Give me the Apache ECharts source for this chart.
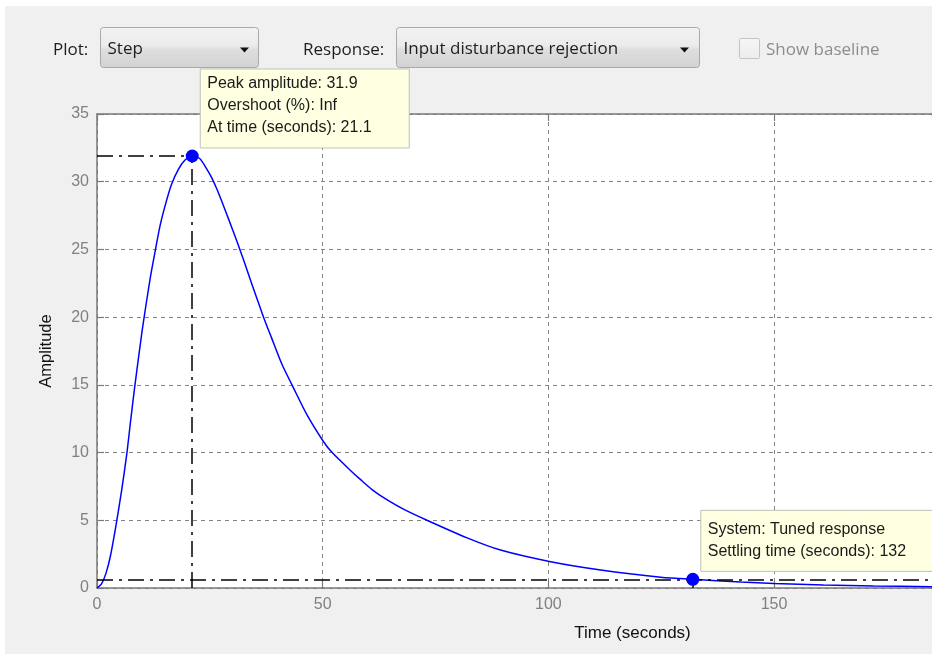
<!DOCTYPE html>
<html>
<head>
<meta charset="utf-8">
<script src="https://cdn.jsdelivr.net/npm/echarts@6/dist/echarts.min.js"></script>
<style>html,body{margin:0;padding:0;background:#fff;}#main{width:932px;height:654px;}</style>
</head>
<body>
<div id="main"></div>
<script>
// ---- data ----
const timeSec = [0, 1.0, 2.0, 3.0, 4.2, 5.5, 6.6, 7.4, 8.3, 10.0, 11.8, 12.9, 14.0, 15.4, 16.5, 18.0, 19.5, 21.1, 22.8, 24.2, 25.4, 26.5, 27.6, 29.2, 31.0, 32.6, 34.3, 36.9, 38.7, 41.0, 43.2, 46.5, 50.2, 52.1, 56.1, 58.4, 61.0, 64.3, 68.0, 73.1, 82.0, 89.4, 100.5, 111.6, 124.9, 132.0, 142.6, 150.0, 161.0, 172.0, 185.0];
const amplitude = [0, 0.3, 1.1, 2.4, 4.6, 7.3, 9.9, 12.2, 14.7, 19.0, 22.9, 24.9, 26.8, 28.6, 29.8, 30.9, 31.6, 31.9, 31.7, 31.0, 30.3, 29.5, 28.6, 27.2, 25.6, 24.1, 22.45, 20.0, 18.45, 16.5, 15.0, 12.8, 10.8, 10.0, 8.7, 8.0, 7.25, 6.5, 5.8, 5.0, 3.7, 2.8, 1.94, 1.33, 0.8, 0.64, 0.45, 0.34, 0.23, 0.15, 0.09];
const peakTime = 21.1;
const peakAmp = 31.9;
const settleTime = 132;
const settleLevel = 0.64;
const xRange = [0, 185];
const yRange = [0, 35];
const xStep = 50;
const yStep = 5;
const peakTipLines = ['Peak amplitude: 31.9', 'Overshoot (%): Inf', 'At time (seconds): 21.1'];
const settleTipLines = ['System: Tuned response', 'Settling time (seconds): 132'];
const plotLabel = 'Plot:';
const plotChoice = 'Step';
const responseLabel = 'Response:';
const responseChoice = 'Input disturbance rejection';
const baselineLabel = 'Show baseline';
const xName = 'Time (seconds)';
const yName = 'Amplitude';

const chart = echarts.init(document.getElementById('main'));
const AXC = '#7a7a7a';
const LBL = '#808080';
const SANS = 'Liberation Sans, Arial, sans-serif';
const UI = 'Open Sans, Noto Sans, sans-serif';
const dashDot = [16, 6, 3, 6];

chart.setOption({
  animation: false,
  backgroundColor: '#f0f0f0',
  grid: {left: 97, top: 114, right: 0, bottom: 66, show: true, backgroundColor: '#ffffff', borderWidth: 0},
  xAxis: [{
    type: 'value', min: xRange[0], max: xRange[1], interval: xStep, position: 'bottom',
    axisLine: {show: true, onZero: false, lineStyle: {color: AXC, width: 1.5}},
    axisTick: {show: true, inside: true, length: 7, lineStyle: {color: AXC, width: 1.2}},
    axisLabel: {color: LBL, fontSize: 16, fontFamily: SANS, margin: 9, showMaxLabel: false},
    splitLine: {show: true, lineStyle: {color: '#858585', type: [4, 4], width: 1}},
    name: xName, nameLocation: 'middle', nameGap: 37,
    nameTextStyle: {color: '#111', fontSize: 17, fontFamily: SANS, padding: [0, 0, 0, 236]}
  }, {
    type: 'value', min: xRange[0], max: xRange[1], interval: xStep, position: 'top',
    axisLine: {show: true, onZero: false, lineStyle: {color: AXC, width: 1.5}},
    axisTick: {show: true, inside: true, length: 7, lineStyle: {color: AXC, width: 1.2}},
    axisLabel: {show: false}, splitLine: {show: false}
  }],
  yAxis: [{
    type: 'value', min: yRange[0], max: yRange[1], interval: yStep,
    axisLine: {show: true, onZero: false, lineStyle: {color: AXC, width: 1.5}},
    axisTick: {show: true, inside: true, length: 7, lineStyle: {color: AXC, width: 1.2}},
    axisLabel: {color: LBL, fontSize: 16, fontFamily: SANS, margin: 8},
    splitLine: {show: true, lineStyle: {color: '#858585', type: [4, 4], width: 1}},
    name: yName, nameLocation: 'middle', nameGap: 42,
    nameTextStyle: {color: '#111', fontSize: 16.5, fontFamily: SANS}
  }],
  series: [{
    type: 'line',
    data: timeSec.map((t, i) => [t, amplitude[i]]),
    showSymbol: false,
    smooth: 0.25,
    lineStyle: {color: '#0000ff', width: 1.5},
    itemStyle: {color: '#0000ff'},
    z: 3,
    markLine: {
      silent: true, symbol: 'none', animation: false,
      label: {show: false},
      lineStyle: {color: '#000', type: dashDot, width: 1.5},
      data: [
        [{coord: [xRange[0], peakAmp]}, {coord: [peakTime, peakAmp]}],
        [{coord: [peakTime, yRange[0]]}, {coord: [peakTime, peakAmp]}],
        [{coord: [xRange[0], settleLevel]}, {coord: [xRange[1], settleLevel]}],
        [{coord: [settleTime, yRange[0]]}, {coord: [settleTime, settleLevel]}]
      ]
    }
  }, {
    type: 'scatter',
    data: [[peakTime, peakAmp], [settleTime, settleLevel]],
    symbol: 'circle', symbolSize: 13,
    itemStyle: {color: '#0000ff', opacity: 1},
    z: 5
  }]
});

// ---- annotations / UI chrome ----
const p1 = chart.convertToPixel({gridIndex: 0}, [peakTime, peakAmp]);
const p2 = chart.convertToPixel({gridIndex: 0}, [settleTime, settleLevel]);

function tip(px, py, w, h, lines, padTop) {
  const left = px + 8, top = py - 8 - h;
  return [
    {type: 'rect', shape: {x: left, y: top, width: w, height: h}, style: {fill: '#ffffe1', stroke: '#c0c0b8', lineWidth: 1}, z: 100},
    {type: 'text', x: left + 7, y: top + padTop, style: {text: lines.join('\n'), fill: '#1a1a1a', fontSize: 16, fontFamily: SANS, lineHeight: 22, verticalAlign: 'top', align: 'left'}, z: 101}
  ];
}

function dropdown(x, y, w, h, text, arrowX) {
  return [
    {type: 'rect', shape: {x: x, y: y, width: w, height: h, r: 3},
     style: {fill: new echarts.graphic.LinearGradient(0, 0, 0, 1, [
       {offset: 0, color: '#f3f3f3'}, {offset: 0.45, color: '#ebebeb'},
       {offset: 0.55, color: '#dedede'}, {offset: 1, color: '#d2d2d2'}]),
       stroke: '#a9a9a9', lineWidth: 1}},
    {type: 'text', x: x + 7, y: y + h / 2 + 2, style: {text: text, fill: '#1e1e1e', fontSize: 17, fontFamily: UI, verticalAlign: 'middle'}},
    {type: 'polygon', shape: {points: [[arrowX, 47.5], [arrowX + 9, 47.5], [arrowX + 4.5, 52.5]]}, style: {fill: '#111'}}
  ];
}

const g = [
  {type: 'rect', shape: {x: 0, y: 0, width: 932, height: 6}, style: {fill: '#ffffff'}},
  {type: 'rect', shape: {x: 0, y: 0, width: 5, height: 654}, style: {fill: '#ffffff'}},
  {type: 'text', x: 53, y: 50, style: {text: plotLabel, fill: '#1e1e1e', fontSize: 17, fontFamily: UI, verticalAlign: 'middle'}},
  ...dropdown(100.5, 27.5, 158, 40, plotChoice, 240),
  {type: 'text', x: 303, y: 50, style: {text: responseLabel, fill: '#1e1e1e', fontSize: 17, fontFamily: UI, verticalAlign: 'middle'}},
  ...dropdown(396.5, 27.5, 303, 40, responseChoice, 680),
  {type: 'rect', shape: {x: 739.5, y: 38.5, width: 20, height: 20, r: 1},
   style: {fill: new echarts.graphic.LinearGradient(0, 0, 0, 1, [{offset: 0, color: '#f6f6f6'}, {offset: 1, color: '#ececec'}]), stroke: '#c4c4c4', lineWidth: 1}},
  {type: 'text', x: 766, y: 50, style: {text: baselineLabel, fill: '#8d8d8d', fontSize: 17, fontFamily: UI, verticalAlign: 'middle'}},
  ...tip(p1[0], p1[1], 209, 79, peakTipLines, 4),
  ...tip(p2[0], p2[1], 240, 61, settleTipLines, 8)
];
chart.setOption({graphic: g});
</script>
</body>
</html>
